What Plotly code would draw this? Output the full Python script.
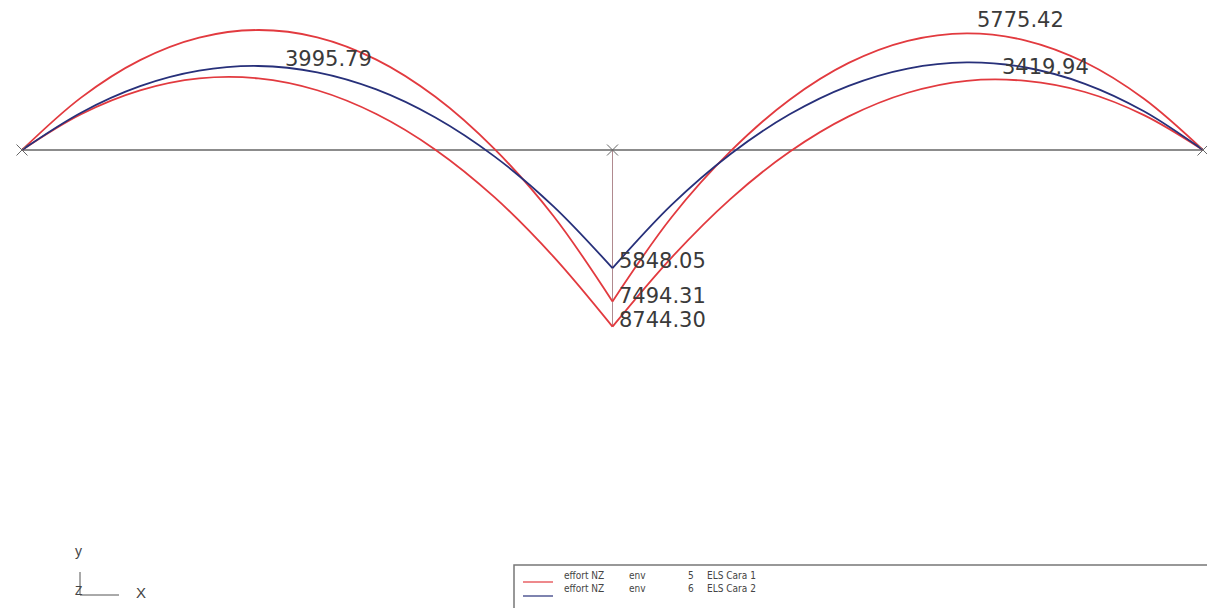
import plotly.graph_objects as go

# ---------------- data ----------------
# positions along the beam (m): two spans of 10 m, middle support at 10
x_left = [0, 1, 2, 3, 4, 5, 6, 7, 8, 9, 10]
x_right = [10, 11, 12, 13, 14, 15, 16, 17, 18, 19, 20]

# envelope NZ, combination 5 (ELS Cara 1) - red, two curves
red_a_left = [0, 2594, 4450, 5564, 5940, 5579, 4475, 2633, 54, -3267, -7494.31]
red_a_right = [-7494.31, -3326, -59, 2490, 4311, 5405, 5775.42, 5420, 4341, 2534, 0]
red_b_left = [0, 1770, 2950, 3542, 3544, 2958, 1782, 17, -2336, -5279, -8744.30]
red_b_right = [-8744.30, -5324, -2416, -87, 1663, 2834, 3425, 3419.94, 2871, 1725, 0]

# envelope NZ, combination 6 (ELS Cara 2) - navy
blue_left = [0, 1846, 3158, 3925, 4158, 3846, 3000, 1609, -317, -2787, -5848.05]
blue_right = [-5848.05, -2718, -198, 1767, 3178, 4034, 4336, 4084, 3277, 1916, 0]

beam_x = [0, 20]
supports_x = [0, 10, 20]

value_labels = ["3995.79", "5775.42", "3419.94", "5848.05", "7494.31", "8744.30"]
legend_names = ["effort NZ", "effort NZ"]
legend_kinds = ["env", "env"]
legend_nums = ["5", "6"]
legend_combs = ["ELS Cara 1", "ELS Cara 2"]

RED = "#e23a3f"
NAVY = "#27307a"
TXT = "#3a3a3a"

W, H = 1215, 608
OFF = 8                      # page body margin of the exported html
PX_PER_M = 59.05
X0_PX = 22 - OFF
Y0_PX = 150 - OFF
UNITS_PER_PX = 49.5


def px(xp):
    return (xp - OFF) / W


def py(yp):
    return 1 - (yp - OFF) / H


fig = go.Figure()

# beam axis
fig.add_trace(go.Scatter(x=beam_x, y=[0, 0], mode="lines",
                         line=dict(color="#666666", width=1.6),
                         hoverinfo="skip", showlegend=False))
# vertical line at middle support down to the extreme value
fig.add_trace(go.Scatter(x=[supports_x[1], supports_x[1]], y=[0, red_b_left[-1]],
                         mode="lines", line=dict(color="#b08a8f", width=1),
                         hoverinfo="skip", showlegend=False))

for ys, xs, col in [(red_a_left, x_left, RED), (red_b_left, x_left, RED),
                    (blue_left, x_left, NAVY),
                    (red_a_right, x_right, RED), (red_b_right, x_right, RED),
                    (blue_right, x_right, NAVY)]:
    fig.add_trace(go.Scatter(x=xs, y=ys, mode="lines",
                             line=dict(color=col, width=1.8, shape="spline", smoothing=1.0),
                             hoverinfo="skip", showlegend=False))

# support marks
fig.add_trace(go.Scatter(x=supports_x, y=[0, 0, 0], mode="markers",
                         marker=dict(symbol="x-thin", size=11,
                                     line=dict(color="#666666", width=1)),
                         hoverinfo="skip", showlegend=False))

# value labels (pixel positions in the reference)
label_pos = [(283, 59), (975, 20), (1000, 67), (617, 261), (617, 296), (617, 320)]
for t, (xp, yp) in zip(value_labels, label_pos):
    fig.add_annotation(x=px(xp), y=py(yp), xref="paper", yref="paper",
                       text=t, showarrow=False, xanchor="left", yanchor="middle",
                       font=dict(family="DejaVu Sans", size=21, color=TXT))

# coordinate glyph
fig.add_shape(type="line", xref="paper", yref="paper",
              x0=px(80), y0=py(572), x1=px(80), y1=py(595),
              line=dict(color="#555555", width=1))
fig.add_shape(type="line", xref="paper", yref="paper",
              x0=px(80), y0=py(595), x1=px(119), y1=py(595),
              line=dict(color="#555555", width=1))
for t, (xp, yp, s) in zip(["y", "Z", "X"], [(78, 551, 14), (78, 591, 12), (141, 592, 15)]):
    fig.add_annotation(x=px(xp), y=py(yp), xref="paper", yref="paper",
                       text=t, showarrow=False, xanchor="center", yanchor="middle",
                       font=dict(family="Liberation Sans, Arial", size=s, color="#444444"))

# legend box
fig.add_shape(type="rect", xref="paper", yref="paper",
              x0=px(514), y0=py(565), x1=px(1240), y1=py(630),
              line=dict(color="#777777", width=1.5), fillcolor="white")
for ly, col in zip([582, 596], [RED, NAVY]):
    fig.add_shape(type="line", xref="paper", yref="paper",
                  x0=px(523), y0=py(ly), x1=px(553), y1=py(ly),
                  line=dict(color=col, width=1.2))
for col_texts, xp in zip([legend_names, legend_kinds, legend_nums, legend_combs],
                         [562, 627, 686, 705]):
    fig.add_annotation(x=px(xp), y=py(568), xref="paper", yref="paper",
                       text="<br>".join(col_texts), showarrow=False,
                       xanchor="left", yanchor="top", align="left",
                       font=dict(family="Liberation Sans Narrow, DejaVu Sans Condensed, Liberation Sans",
                                 size=10, color="#444444"))

fig.update_layout(
    width=W, height=H,
    margin=dict(l=0, r=0, t=0, b=0),
    paper_bgcolor="white", plot_bgcolor="white",
    xaxis=dict(range=[-X0_PX / PX_PER_M, (W - X0_PX) / PX_PER_M],
               visible=False, fixedrange=True),
    yaxis=dict(range=[-(H - Y0_PX) * UNITS_PER_PX, Y0_PX * UNITS_PER_PX],
               visible=False, fixedrange=True),
    showlegend=False,
)

fig.write_html("out.html")
